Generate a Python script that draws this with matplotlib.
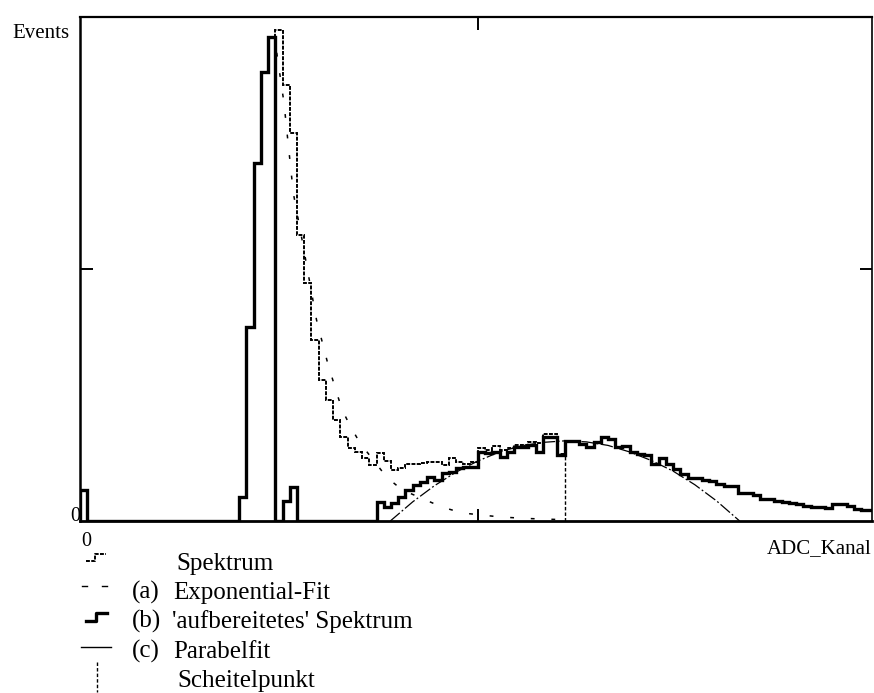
import numpy as np
import matplotlib.pyplot as plt
from matplotlib.lines import Line2D

W, H = 874, 693

# ---- Daten ----
# 'aufbereitetes' Spektrum (b), Kanal 0..109, Binbreite 1
aufbereitet = [
    61, 0, 0, 0, 0, 0, 0, 0, 0, 0,
    0, 0, 0, 0, 0, 0, 0, 0, 0, 0,
    0, 0, 48, 385, 710, 891, 960, 0, 40, 67,
    0, 0, 0, 0, 0, 0, 0, 0, 0, 0,
    0, 38, 28, 36, 48, 62, 71, 77, 87, 81,
    95, 97, 105, 107, 107, 137, 135, 137, 127, 137,
    147, 147, 151, 137, 167, 167, 131, 159, 159, 153,
    147, 157, 167, 163, 147, 149, 137, 133, 131, 113,
    125, 113, 103, 93, 85, 85, 81, 79, 73, 69,
    69, 56, 56, 52, 44, 44, 40, 38, 36, 34,
    30, 28, 28, 26, 34, 34, 30, 24, 22, 22,
]

# Rohspektrum
spektrum = [
    61, 0, 0, 0, 0, 0, 0, 0, 0, 0,
    0, 0, 0, 0, 0, 0, 0, 0, 0, 0,
    0, 0, 48, 385, 710, 891, 960, 974, 865, 770,
    567, 472, 359, 280, 240, 200, 167, 145, 137, 125,
    111, 135, 119, 101, 105, 113, 113, 115, 117, 117,
    111, 125, 117, 113, 117, 145, 141, 149, 141, 145,
    151, 151, 157, 155, 173, 173, 133, 159, 159, 153,
    147, 157, 167, 163, 147, 149, 137, 133, 131, 113,
    125, 113, 103, 93, 85, 85, 81, 79, 73, 69,
    69, 56, 56, 52, 44, 44, 40, 38, 36, 34,
    30, 28, 28, 26, 34, 34, 30, 24, 22, 22,
]

# (a) Exponential-Fit
exp_x = [27.2, 28.2, 28.7, 29.5, 30.7, 32.7, 34.3, 36.2, 37.3, 38.7,
         42.4, 44.5, 50.0, 52.8, 58.1, 61.8, 66.0]
exp_y = [929, 830, 760, 650, 558, 399, 310, 222, 190, 155,
         87, 62, 28, 16, 8, 5, 3]

# (c) Parabelfit
para_x = [42.9, 46, 49, 52, 55, 58, 61, 64, 67, 70, 73, 76, 79, 82, 85, 88, 91.2]
para_y = [0, 38, 70, 97, 119, 137, 149, 156, 159, 157, 150, 137, 120, 99, 72, 40, 0]

# Scheitelpunkt
scheitel_x = 67.05
scheitel_y = 131

kanten = np.arange(len(aufbereitet) + 1)

fig = plt.figure(figsize=(W / 100, H / 100), dpi=100)
ax = fig.add_axes([80 / W, 1 - 521 / H, 792 / W, 504 / H])

ax.stairs(spektrum, kanten, baseline=0, color="black", lw=1.4,
          linestyle=(0, (2.0, 0.7)))
ax.stairs(aufbereitet, kanten, baseline=0, color="black", lw=2.4)
ax.plot(exp_x, exp_y, color="black", lw=1.1, linestyle=(0, (2.5, 11)))
ax.plot(para_x, para_y, color="black", lw=0.9, linestyle=(0, (10, 2, 1.5, 2)))
ax.plot([scheitel_x, scheitel_x], [0, scheitel_y], color="black", lw=1.0,
        linestyle=(0, (2.5, 1.5)))

ax.set_xlim(0, 109.5)
ax.set_ylim(0, 1000)
ax.set_xticks([55])
ax.set_yticks([500])
ax.tick_params(direction="in", length=9, width=1.4, top=True, right=True,
               labelbottom=False, labelleft=False)
for side, lw in [("left", 1.8), ("bottom", 2.0), ("top", 1.6), ("right", 1.2)]:
    ax.spines[side].set_linewidth(lw)

serif = "Liberation Serif"


def fx(px):
    return px / W


def fy(py):
    return 1 - py / H


# Achsenbeschriftungen
fig.text(fx(12), fy(38), "Events", family=serif, fontsize=15, va="baseline")
fig.text(fx(70), fy(521), "0", family=serif, fontsize=14.5, va="baseline")
fig.text(fx(86), fy(546), "0", family=serif, fontsize=14.5, va="baseline",
         ha="center")
fig.text(fx(872), fy(553), "ADC_Kanal", family=serif, fontsize=15,
         va="baseline", ha="right")

# Legende
def sym(xs, ys, **kw):
    fig.add_artist(Line2D([fx(v) for v in xs], [fy(v) for v in ys],
                          transform=fig.transFigure, color="black", **kw))


sym([86, 95, 95, 106], [561, 561, 554, 554], lw=1.4, linestyle=(0, (2.0, 0.7)))
sym([82, 87], [586, 586], lw=1.0)
sym([102, 107], [586, 586], lw=1.0)
sym([86, 96, 96, 107], [621, 621, 613, 613], lw=2.4)
sym([81, 111], [647, 647], lw=1.0)
sym([97, 97], [662, 692], lw=1.0, linestyle=(0, (2.5, 1.5)))

fs = 18
fig.text(fx(176), fy(570), "Spektrum", family=serif, fontsize=fs, va="baseline")
fig.text(fx(132), fy(599), "(a)", family=serif, fontsize=fs, va="baseline")
fig.text(fx(173), fy(599), "Exponential-Fit", family=serif, fontsize=fs,
         va="baseline")
fig.text(fx(132), fy(628), "(b)", family=serif, fontsize=fs, va="baseline")
fig.text(fx(172), fy(628), "'aufbereitetes' Spektrum", family=serif,
         fontsize=fs, va="baseline")
fig.text(fx(132), fy(658), "(c)", family=serif, fontsize=fs, va="baseline")
fig.text(fx(173), fy(658), "Parabelfit", family=serif, fontsize=fs,
         va="baseline")
fig.text(fx(177), fy(687), "Scheitelpunkt", family=serif, fontsize=fs,
         va="baseline")

fig.savefig("out.png", dpi=100)
